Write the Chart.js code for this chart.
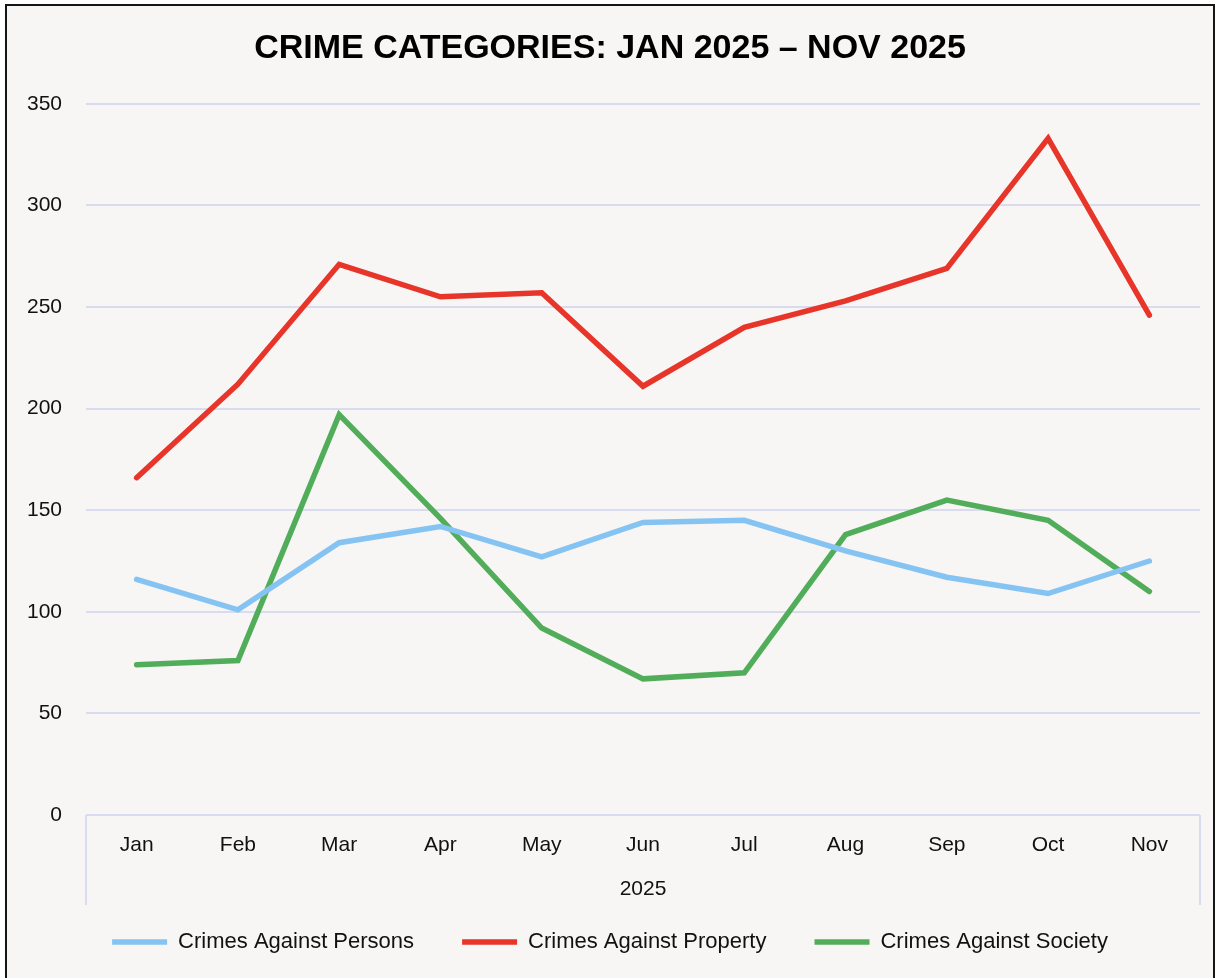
<!DOCTYPE html>
<html>
<head>
<meta charset="utf-8">
<script src="https://cdn.jsdelivr.net/npm/chart.js@4.4.1/dist/chart.umd.min.js"></script>
<style>
  html, body { margin: 0; padding: 0; background: #ffffff; }
  #frame { position: absolute; left: 5px; top: 4px; width: 1210px; height: 1000px;
           border: 2px solid #151515; background: #f7f6f4; box-sizing: border-box; }
  #wrap { position: absolute; left: 0; top: 0; width: 1219px; height: 978px; }
</style>
</head>
<body>
<div id="frame"></div>
<div id="wrap"><canvas id="c" width="1219" height="978"></canvas></div>
<script>
const months = ["Jan","Feb","Mar","Apr","May","Jun","Jul","Aug","Sep","Oct","Nov"];
const yearLabel = "2025";
const persons  = [116, 101, 134, 142, 127, 144, 145, 130, 117, 109, 125];
const property = [166, 212, 271, 255, 257, 211, 240, 253, 269, 333, 246];
const society  = [74, 76, 197, 146, 92, 67, 70, 138, 155, 145, 110];
const yTicks   = [0, 50, 100, 150, 200, 250, 300, 350];

const gridColor = '#d9dbee';
const FONT = "'Liberation Sans', Arial, sans-serif";

const decor = {
  id: 'decor',
  afterDraw(chart) {
    const a = chart.chartArea, ctx = chart.ctx;
    ctx.save();
    ctx.strokeStyle = gridColor;
    ctx.lineWidth = 2;
    ctx.beginPath();
    ctx.moveTo(a.left, a.bottom); ctx.lineTo(a.left, a.bottom + 90);
    ctx.moveTo(a.right, a.bottom); ctx.lineTo(a.right, a.bottom + 90);
    ctx.stroke();
    ctx.restore();
  }
};

const lineStyle = { borderWidth: 5.5, borderCapStyle: 'round', borderJoinStyle: 'miter' };

new Chart(document.getElementById('c'), {
  type: 'line',
  data: {
    labels: months,
    datasets: [
      Object.assign({ label: 'Crimes Against Persons', data: persons, borderColor: '#85c4f2', backgroundColor: '#85c4f2' }, lineStyle),
      Object.assign({ label: 'Crimes Against Property', data: property, borderColor: '#e8352a', backgroundColor: '#e8352a' }, lineStyle),
      Object.assign({ label: 'Crimes Against Society', data: society, borderColor: '#52ad5b', backgroundColor: '#52ad5b' }, lineStyle)
    ]
  },
  options: {
    responsive: false,
    animation: false,
    devicePixelRatio: 1,
    layout: { padding: { left: 20, right: 19, top: 0, bottom: 15 } },
    elements: {
      line: { tension: 0 },
      point: { radius: 0, hoverRadius: 0 }
    },
    plugins: {
      title: {
        display: true,
        text: 'CRIME CATEGORIES: JAN 2025 – NOV 2025',
        color: '#000',
        font: { family: FONT, size: 34, weight: 'bold' },
        padding: { top: 28, bottom: 35 }
      },
      legend: {
        position: 'bottom',
        labels: {
          usePointStyle: true,
          pointStyle: 'line',
          pointStyleWidth: 55,
          color: '#111',
          font: { family: FONT, size: 22 },
          padding: 48
        }
      },
      tooltip: { enabled: false }
    },
    scales: {
      x: {
        offset: true,
        grid: { display: false, drawTicks: false },
        border: { display: false },
        ticks: { color: '#111', font: { family: FONT, size: 21 }, padding: 18, maxRotation: 0 },
        title: { display: true, text: yearLabel, color: '#111', font: { family: FONT, size: 21 }, padding: { top: 0, bottom: -19 } },
        afterFit(s) { s.height = 68; }
      },
      y: {
        min: 0, max: 350,
        afterBuildTicks(s) { s.ticks = yTicks.map(v => ({ value: v })); },
        grid: { color: gridColor, lineWidth: 2, drawTicks: false },
        border: { display: false },
        ticks: { color: '#111', font: { family: FONT, size: 21 }, padding: 24 },
        afterFit(s) { s.width = 66; }
      }
    }
  },
  plugins: [decor]
});
</script>
</body>
</html>
